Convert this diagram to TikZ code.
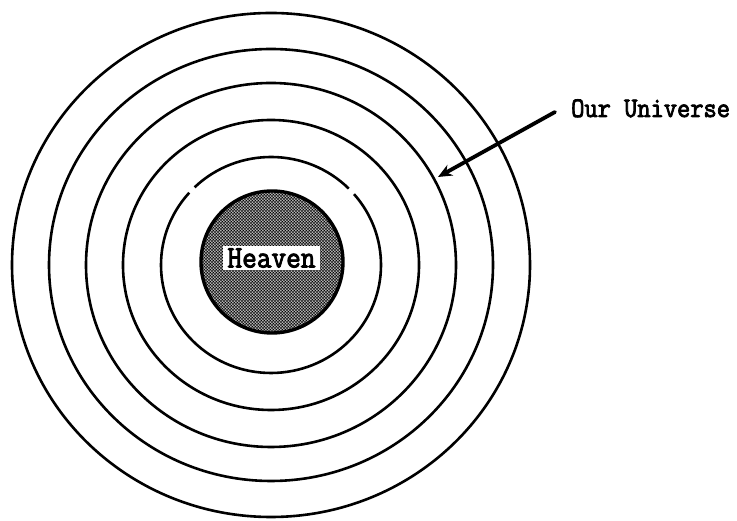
\documentclass[tikz,border=0pt]{standalone}
\usepackage{fontspec}
\usepackage{graphicx}
\newfontfamily\slabfont{Latin Modern Mono}[FakeBold=3]
\usetikzlibrary{patterns.meta,arrows.meta}
\tikzdeclarepattern{
  name=heavendots,
  tile size={(3.4pt,3.4pt)},
  bottom left={(0pt,0pt)},
  top right={(3.4pt,3.4pt)},
  code={\fill (0pt,0pt) circle (1.2pt); \fill (3.4pt,0pt) circle (1.2pt);
        \fill (0pt,3.4pt) circle (1.2pt); \fill (3.4pt,3.4pt) circle (1.2pt);
        \fill (1.7pt,1.7pt) circle (1.2pt);}
}
\newcommand\slabtext[2]{\slabfont\fontsize{#1}{#1}\selectfont #2}
\begin{document}
\begin{tikzpicture}[x=1pt,y=1pt,
  ring/.style={line width=2.6pt},
  labeltext/.style={inner sep=0pt}]
\useasboundingbox (0,0) rectangle (737,521);
\coordinate (c) at (271,256);
\foreach \a/\b in {259/252,222/216,185/182,148/145}{
  \draw[ring] (c) ellipse [x radius=\a, y radius=\b];
}
\draw[ring] ([shift={(45:110pt and 108pt)}]c) arc[start angle=45,end angle=134,x radius=110,y radius=108];
\draw[ring] ([shift={(138:110pt and 108pt)}]c) arc[start angle=138,end angle=401,x radius=110,y radius=108];
\node[circle, draw, line width=3.4pt, pattern=heavendots, pattern color=black, minimum size=142pt, inner sep=0pt] (heaven) at (272,259) {};
\node[labeltext, fill=white, minimum width=97pt, minimum height=24pt] (heavenlabel) at (271.5,263)
  {\scalebox{1}[1.1]{\slabtext{28.5}{Heaven}}};
\node[labeltext, anchor=base west] (univ) at (571,404)
  {\scalebox{1}[1.1]{\slabtext{25.7}{Our Universe}}};
\coordinate (astart) at (555,409);
\coordinate (atip) at (438,344);
\draw[line width=3.8pt, line cap=round, -{Stealth[length=14pt,width=12pt]}] (astart) -- (atip);
\end{tikzpicture}
\end{document}
